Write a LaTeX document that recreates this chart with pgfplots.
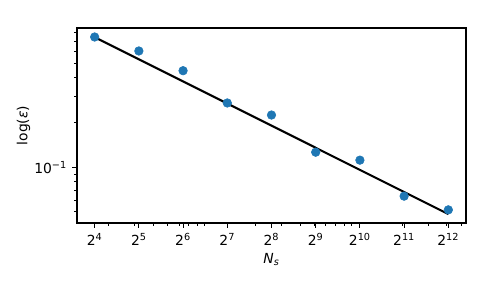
\documentclass[border=0pt]{standalone}
\usepackage{fontspec}
\setmainfont{DejaVu Sans}
\usepackage{pgfplots}
\pgfplotsset{compat=1.18}
\definecolor{tabblue}{HTML}{1F77B4}
\begin{document}
\fontsize{10}{12}\selectfont
\begin{tikzpicture}
\begin{axis}[
  name=ax,
  scale only axis,
  width=280.1pt, height=140.4pt,
  xmode=log, ymode=log,
  xmin=12.13, xmax=5404,
  ymin=0.0421, ymax=0.862,
  axis line style={line width=0.8pt},
  tick align=outside,
  xtick pos=bottom, ytick pos=left,
  major tick length=3.5pt, minor tick length=2pt,
  every tick/.style={black, line width=0.8pt},
  every minor tick/.style={black, line width=0.6pt},
  xtick={16,32,64,128,256,512,1024,2048,4096},
  xticklabels={2\textsuperscript{4},2\textsuperscript{5},2\textsuperscript{6},2\textsuperscript{7},2\textsuperscript{8},2\textsuperscript{9},2\textsuperscript{10},2\textsuperscript{11},2\textsuperscript{12}},
  minor xtick={20,30,40,50,60,70,80,90,200,300,400,500,600,700,800,900,2000,3000,4000,5000},
  ytick={0.1},
  yticklabels={10\textsuperscript{−1}},
  minor ytick={0.05,0.06,0.07,0.08,0.09,0.2,0.3,0.4,0.5,0.6,0.7,0.8},
  tick label style={font=\fontsize{10}{12}\selectfont},
  xticklabel style={inner sep=0pt, yshift=-3.5pt, anchor=north},
  yticklabel style={inner sep=0pt, xshift=-3.5pt, anchor=east},
  xlabel={\textit{N}\textsubscript{\textit{s}}},
  ylabel={log(\textit{ε})},
  label style={font=\fontsize{10}{12}\selectfont},
  xlabel style={inner sep=0pt, at={(axis description cs:0.5,-0.2073)}, anchor=base},
  ylabel style={inner sep=0pt, at={(axis description cs:-0.1274,0.5)}, anchor=base},
]
\addplot[only marks, mark=*, mark size=3.1pt, color=tabblue] coordinates {
  (16,0.750) (32,0.604) (64,0.445) (128,0.270) (256,0.224)
  (512,0.126) (1024,0.1114) (2048,0.0638) (4096,0.0516)
};
\addplot[black, line width=1.5pt, no marks] coordinates {
  (16,0.748) (4096,0.0483)
};
\end{axis}
\pgfresetboundingbox
\path[use as bounding box] ([xshift=-55.44pt,yshift=-46.8pt]ax.south west) rectangle ([xshift=10.08pt,yshift=20.16pt]ax.north east);
\end{tikzpicture}
\end{document}
